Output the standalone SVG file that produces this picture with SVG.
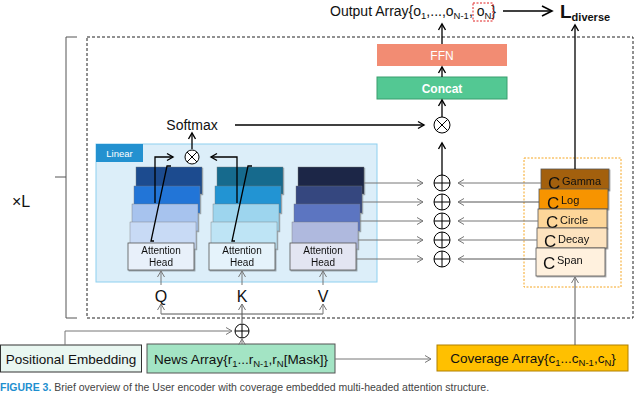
<svg xmlns="http://www.w3.org/2000/svg" width="640" height="396" viewBox="0 0 640 396">
<style>
text{font-family:"Liberation Sans",Arial,sans-serif;fill:#111}
.ah{font-size:10px;text-anchor:middle}
.c{font-size:17px}
.cs{font-size:11px}
.ln{fill:none;stroke:#000;stroke-width:1.3}
.gl{fill:none;stroke:#777;stroke-width:1}
.dl{fill:none;stroke:#555;stroke-width:1}
.circ{fill:#fff;stroke:#000;stroke-width:1}
.head{stroke:#555;stroke-width:0.8}
.lay{stroke:#777;stroke-width:0.4}
.cb{stroke:#555;stroke-width:0.8}
</style>
<defs>
<marker id="ab" markerUnits="userSpaceOnUse" markerWidth="10" markerHeight="10" refX="8" refY="5" orient="auto"><path d="M2,1.5 L8,5 L2,8.5" fill="none" stroke="#000" stroke-width="1.4"/></marker>
<marker id="ag" markerUnits="userSpaceOnUse" markerWidth="10" markerHeight="10" refX="8" refY="5" orient="auto"><path d="M2,1.5 L8,5 L2,8.5" fill="none" stroke="#777" stroke-width="1"/></marker>
<marker id="abig" markerUnits="userSpaceOnUse" markerWidth="14" markerHeight="14" refX="12" refY="7" orient="auto"><path d="M2,2 L12,7 L2,12" fill="none" stroke="#000" stroke-width="1.6"/></marker>
<filter id="sh" x="-10%" y="-10%" width="130%" height="140%"><feDropShadow dx="1" dy="1" stdDeviation="0.7" flood-color="#000" flood-opacity="0.35"/></filter>
</defs>
<rect width="640" height="396" fill="#fff"/>

<g id="output">
<text x="330" y="16" font-size="14">Output Array{o<tspan font-size="9.5" dy="3">1</tspan><tspan dy="-3">,...,o</tspan><tspan font-size="9.5" dy="3">N-1</tspan><tspan dy="-3">, o</tspan><tspan font-size="9.5" dy="3">N</tspan><tspan dy="-3">}</tspan></text>
<rect x="473" y="3" width="20" height="18" fill="none" stroke="#E02020" stroke-dasharray="2 1.5" stroke-width="1"/>
</g>
<g id="ldiverse"><text x="560" y="18" font-weight="bold" font-size="19">L<tspan font-size="11" dy="3">diverse</tspan></text></g>

<g id="repeat"><path d="M77,37 H66 V318 H77 M55,177 H66" stroke="#555" fill="none"/><text x="12" y="207" font-size="16">×L</text></g>
<rect id="layer" x="87" y="37" width="546" height="281" fill="none" stroke="#222" stroke-dasharray="3 2"/>

<g id="ffn"><rect x="377" y="44" width="130" height="22" fill="#F28C73"/><text x="442" y="60" font-size="12" style="fill:#fff" text-anchor="middle">FFN</text></g>
<g id="concat"><rect x="377" y="77" width="130" height="22" fill="#53C893" stroke="#3A9E6E"/><text x="442" y="93" font-size="12" font-weight="bold" style="fill:#fff" text-anchor="middle">Concat</text></g>
<g id="softmax"><text x="192" y="130" font-size="14" text-anchor="middle">Softmax</text></g>

<g id="linear">
<rect x="96" y="144" width="281" height="138" fill="#DCEEF9" stroke="#8ED0EF"/>
<rect x="96" y="144" width="47" height="18" fill="#2391D0"/>
<text x="119.5" y="157" font-size="9.5" style="fill:#fff" text-anchor="middle">Linear</text>
</g>

<g id="headsQ" filter="url(#sh)">
<rect class="lay" x="136" y="167" width="66" height="27" fill="#1C4B8F"/>
<rect class="lay" x="134" y="186" width="66" height="27" fill="#2374D7"/>
<rect class="lay" x="132" y="204" width="66" height="27" fill="#A7C3EE"/>
<rect class="lay" x="130" y="222" width="66" height="27" fill="#C8DAF5"/>
<rect class="head" x="128" y="243" width="66" height="27" fill="#E8F0FA"/>
<text class="ah" x="161" y="254">Attention</text><text class="ah" x="161" y="266">Head</text>
</g>
<g id="headsK" filter="url(#sh)">
<rect class="lay" x="217" y="167" width="66" height="27" fill="#186B8D"/>
<rect class="lay" x="215" y="186" width="66" height="27" fill="#2094D3"/>
<rect class="lay" x="213" y="204" width="66" height="27" fill="#9DD5EE"/>
<rect class="lay" x="211" y="222" width="66" height="27" fill="#BEE4F5"/>
<rect class="head" x="209" y="243" width="66" height="27" fill="#E5F3FB"/>
<text class="ah" x="242" y="254">Attention</text><text class="ah" x="242" y="266">Head</text>
</g>
<g id="headsV" filter="url(#sh)">
<rect class="lay" x="298" y="167" width="66" height="27" fill="#1C2747"/>
<rect class="lay" x="296" y="186" width="66" height="27" fill="#34467F"/>
<rect class="lay" x="294" y="204" width="66" height="27" fill="#5B74C1"/>
<rect class="lay" x="292" y="222" width="66" height="27" fill="#AFB9DE"/>
<rect class="head" x="290" y="243" width="66" height="27" fill="#E3E5F2"/>
<text class="ah" x="323" y="254">Attention</text><text class="ah" x="323" y="266">Head</text>
</g>

<g id="qkv">
<text x="161" y="302" font-size="16" text-anchor="middle">Q</text>
<text x="242" y="302" font-size="16" text-anchor="middle">K</text>
<text x="323" y="302" font-size="16" text-anchor="middle">V</text>
</g>

<g id="coverage-set">
<rect x="524" y="158" width="97" height="129" fill="none" stroke="#F5A623" stroke-dasharray="2 1.5"/>
<g id="cGamma" filter="url(#sh)"><rect class="cb" x="541" y="169" width="68" height="21" fill="#A3600D"/><text class="c" x="548" y="189">C</text><text class="cs" x="562" y="185">Gamma</text></g>
<g id="cLog" filter="url(#sh)"><rect class="cb" x="539" y="189" width="69" height="20" fill="#F79400"/><text class="c" x="547" y="209">C</text><text class="cs" x="561" y="204">Log</text></g>
<g id="cCircle" filter="url(#sh)"><rect class="cb" x="538" y="209" width="69" height="19" fill="#FDD699"/><text class="c" x="546" y="228">C</text><text class="cs" x="560" y="224">Circle</text></g>
<g id="cDecay" filter="url(#sh)"><rect class="cb" x="537" y="228" width="70" height="20" fill="#FDE3BF"/><text class="c" x="544" y="247">C</text><text class="cs" x="558" y="243">Decay</text></g>
<g id="cSpan" filter="url(#sh)"><rect class="cb" x="536" y="248" width="69" height="28" fill="#FFF1DE"/><text class="c" x="543" y="269">C</text><text class="cs" x="557" y="264">Span</text></g>
</g>

<g id="posemb"><rect x="0.5" y="345" width="141" height="27" fill="#E9F7F1" stroke="#333"/><text x="71" y="364" font-size="13.5" text-anchor="middle">Positional Embedding</text></g>
<g id="news"><rect x="147" y="344" width="188" height="29" fill="#A3E4C4" stroke="#555"/><text x="241" y="364" font-size="13.5" text-anchor="middle">News Array{r<tspan font-size="9.5" dy="3">1</tspan><tspan dy="-3">...r</tspan><tspan font-size="9.5" dy="3">N-1</tspan><tspan dy="-3">,r</tspan><tspan font-size="9.5" dy="3">N</tspan><tspan dy="-3">[Mask]}</tspan></text></g>
<g id="covarr"><rect x="437" y="345" width="191" height="26" fill="#FFC000" stroke="#B08000"/><text x="533" y="363" font-size="13.5" text-anchor="middle">Coverage Array{c<tspan font-size="9.5" dy="3">1</tspan><tspan dy="-3">...c</tspan><tspan font-size="9.5" dy="3">N-1</tspan><tspan dy="-3">,c</tspan><tspan font-size="9.5" dy="3">N</tspan><tspan dy="-3">}</tspan></text></g>

<g id="connectors">
<path class="ln" d="M154,241 H151 L167,166 H171"/>
<path class="ln" d="M155,203 V157 H173" marker-end="url(#ab)"/>
<path class="ln" d="M235,241 H232 L248,166 H252"/>
<path class="ln" d="M237,203 V157 H211" marker-end="url(#ab)"/>
<path class="ln" d="M192,149 V133" marker-end="url(#ab)"/>
<path class="ln" d="M235,125 H424" marker-end="url(#ab)"/>
<path class="ln" d="M442,117 V100" marker-end="url(#ab)"/>
<path class="ln" d="M442,77 V67" marker-end="url(#ab)"/>
<path class="ln" d="M442,44 V24" marker-end="url(#ab)"/>
<path class="ln" d="M503,11 H552" stroke-width="1.6" marker-end="url(#abig)"/>
<path class="ln" d="M575,169 V25" marker-end="url(#ab)"/>
<path class="ln" d="M442,175 V143" marker-end="url(#ab)"/>
<path class="gl" d="M364,183 H423" marker-end="url(#ag)"/>
<path class="gl" d="M362,202 H423" marker-end="url(#ag)"/>
<path class="gl" d="M360,221 H423" marker-end="url(#ag)"/>
<path class="gl" d="M358,240 H423" marker-end="url(#ag)"/>
<path class="gl" d="M356,259 H423" marker-end="url(#ag)"/>
<path class="gl" d="M541,183 H458" marker-end="url(#ag)"/>
<path class="dl" d="M539,202 H458" marker-end="url(#ag)"/>
<path class="gl" d="M538,221 H458" marker-end="url(#ag)"/>
<path class="gl" d="M537,240 H458" marker-end="url(#ag)"/>
<path class="dl" d="M536,259 H458" marker-end="url(#ag)"/>
<path class="gl" d="M161,285 V271" marker-end="url(#ag)"/>
<path class="gl" d="M242,285 V271" marker-end="url(#ag)"/>
<path class="gl" d="M323,285 V271" marker-end="url(#ag)"/>
<path class="dl" d="M161,314 H323"/>
<path class="gl" d="M161,314 V304" marker-end="url(#ag)"/>
<path class="gl" d="M323,314 V304" marker-end="url(#ag)"/>
<path class="dl" d="M242,323 V304" stroke-width="1.3" marker-end="url(#ag)"/>
<path class="gl" d="M65,345 V331 H232" marker-end="url(#ag)"/>
<path class="gl" d="M242,344 V339" marker-end="url(#ag)"/>
<path class="gl" d="M335,359 H431" marker-end="url(#ag)"/>
<path class="dl" d="M575,345 V277" marker-end="url(#ag)"/>
</g>

<g id="ops">
<g id="mul1"><circle class="circ" cx="192" cy="157" r="7"/><path d="M187,152 L197,162 M197,152 L187,162" stroke="#000"/></g>
<g id="mul2"><circle class="circ" cx="442" cy="125" r="8"/><path d="M436.3,119.3 L447.7,130.7 M447.7,119.3 L436.3,130.7" stroke="#000"/></g>
<g id="add1"><circle class="circ" cx="442" cy="183" r="8"/><path d="M434,183 H450 M442,175 V191" stroke="#000"/></g>
<g id="add2"><circle class="circ" cx="442" cy="202" r="8"/><path d="M434,202 H450 M442,194 V210" stroke="#000"/></g>
<g id="add3"><circle class="circ" cx="442" cy="221" r="8"/><path d="M434,221 H450 M442,213 V229" stroke="#000"/></g>
<g id="add4"><circle class="circ" cx="442" cy="240" r="8"/><path d="M434,240 H450 M442,232 V248" stroke="#000"/></g>
<g id="add5"><circle class="circ" cx="442" cy="259" r="8"/><path d="M434,259 H450 M442,251 V267" stroke="#000"/></g>
<g id="add6"><circle class="circ" cx="242" cy="331" r="7"/><path d="M235,331 H249 M242,324 V338" stroke="#000"/></g>
</g>

<g id="caption"><text x="0" y="391" font-size="10.5" style="fill:#444"><tspan font-weight="bold" style="fill:#1E8FCF">FIGURE 3.</tspan>  Brief overview of the User encoder with coverage embedded multi-headed attention structure.</text></g>
</svg>
